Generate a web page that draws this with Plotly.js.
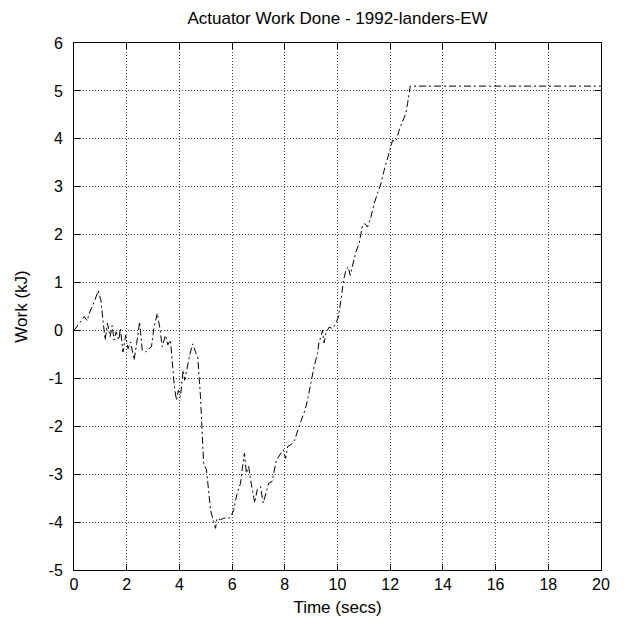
<!DOCTYPE html>
<html>
<head>
<meta charset="utf-8">
<script src="https://cdn.plot.ly/plotly-3.0.1.min.js"></script>
<style>html,body{margin:0;padding:0;background:#fff;}#chart{width:631px;height:629px;}</style>
</head>
<body>
<div id="chart"></div>
<script>
const timeSecs = [0, 0.2, 0.39, 0.5, 0.58, 0.77, 0.92, 1.02, 1.12, 1.18, 1.27, 1.37, 1.45, 1.52, 1.6, 1.7, 1.76, 1.86, 1.96, 2.05, 2.15, 2.28, 2.38, 2.49, 2.59, 2.72, 2.84, 2.94, 3.03, 3.16, 3.26, 3.35, 3.47, 3.56, 3.66, 3.81, 3.89, 3.96, 4.04, 4.14, 4.2, 4.29, 4.39, 4.5, 4.61, 4.7, 4.8, 4.92, 5.03, 5.18, 5.28, 5.37, 5.43, 5.56, 5.68, 5.87, 5.96, 6.06, 6.19, 6.32, 6.38, 6.47, 6.54, 6.63, 6.7, 6.86, 6.95, 7.08, 7.18, 7.3, 7.39, 7.52, 7.61, 7.68, 7.81, 7.94, 8.03, 8.11, 8.22, 8.37, 8.51, 8.67, 8.76, 8.86, 8.99, 9.11, 9.24, 9.3, 9.37, 9.43, 9.49, 9.56, 9.68, 9.81, 9.94, 10.03, 10.13, 10.23, 10.32, 10.41, 10.48, 10.54, 10.61, 10.7, 10.82, 10.89, 10.95, 11.04, 11.14, 11.27, 11.39, 11.52, 11.65, 11.77, 11.9, 12.0, 12.09, 12.18, 12.25, 12.34, 12.47, 12.59, 12.66, 12.76, 20];
const workKJ = [0, 0.15, 0.29, 0.2, 0.36, 0.6, 0.83, 0.63, 0.0, -0.2, 0.15, -0.13, 0.1, -0.2, -0.03, -0.2, 0.04, -0.45, -0.1, -0.38, -0.24, -0.62, -0.27, 0.18, -0.41, -0.45, -0.38, -0.34, 0.04, 0.36, 0.04, -0.34, -0.1, -0.3, -0.2, -1.18, -1.46, -1.25, -1.39, -0.83, -1.04, -0.76, -0.52, -0.28, -0.44, -0.58, -1.38, -2.77, -2.91, -3.74, -3.95, -4.13, -3.92, -3.95, -3.92, -3.92, -3.88, -3.74, -3.4, -3.19, -2.91, -2.56, -2.98, -2.84, -3.12, -3.6, -3.33, -3.26, -3.6, -3.33, -3.19, -3.15, -2.91, -2.7, -2.6, -2.49, -2.67, -2.42, -2.39, -2.3, -2.05, -1.81, -1.67, -1.46, -1.08, -0.76, -0.48, -0.24, -0.14, 0.0, -0.26, -0.06, 0.07, 0.04, 0.14, 0.28, 0.63, 1.05, 1.26, 1.33, 1.15, 1.29, 1.46, 1.64, 1.81, 2.02, 2.2, 2.23, 2.16, 2.37, 2.65, 2.86, 3.07, 3.34, 3.59, 3.8, 3.97, 3.94, 4.0, 4.18, 4.35, 4.53, 4.74, 5.1, 5.1];
const xTicks = [0, 2, 4, 6, 8, 10, 12, 14, 16, 18, 20];
const yTicks = [-5, -4, -3, -2, -1, 0, 1, 2, 3, 4, 5, 6];

const fam = 'Liberation Sans, Arial, sans-serif';
const tickFont = {family: fam, size: 16, color: '#000'};
const titleFont = {family: fam, size: 17, color: '#000'};
const axisCommon = {
  showline: true, linecolor: '#000', linewidth: 1, mirror: 'ticks',
  ticks: 'inside', ticklen: 6, tickcolor: '#000', tickwidth: 1,
  showgrid: true, gridcolor: '#444', gridwidth: 1, griddash: '1px,2px',
  zeroline: false, tickfont: tickFont
};
Plotly.newPlot('chart', [{
  x: timeSecs, y: workKJ, type: 'scatter', mode: 'lines',
  line: {color: '#000', width: 1, dash: '7px,3px,2px,3px'}, showlegend: false
}], {
  width: 631, height: 629,
  margin: {l: 74, r: 30, t: 43, b: 59},
  paper_bgcolor: '#fff', plot_bgcolor: '#fff',
  title: {text: 'Actuator Work Done - 1992-landers-EW', font: titleFont, x: 337.5 / 631, xanchor: 'center', yref: 'container', y: 1 - 18 / 629, yanchor: 'middle'},
  xaxis: Object.assign({}, axisCommon, {range: [0, 20], tickvals: xTicks, ticktext: xTicks.map(String),
    title: {text: 'Time (secs)', font: titleFont, standoff: 8}}),
  yaxis: Object.assign({}, axisCommon, {range: [-5, 6], tickvals: yTicks, ticktext: yTicks.map(String),
    ticklabelstandoff: 7,
    title: {text: 'Work (kJ)', font: titleFont, standoff: 16}})
}, {displayModeBar: false, staticPlot: true});
</script>
</body>
</html>
